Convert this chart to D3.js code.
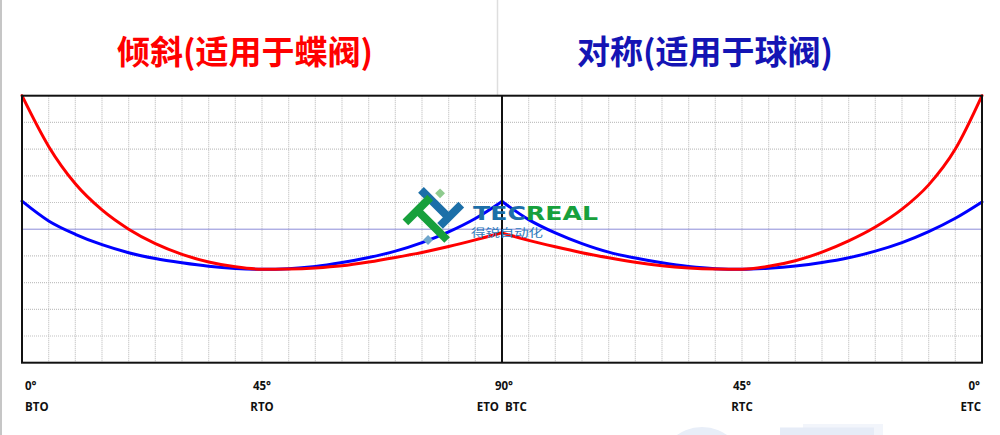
<!DOCTYPE html>
<html>
<head>
<meta charset="utf-8">
<script src="https://cdn.jsdelivr.net/npm/d3@7"></script>
<style>
  html, body { margin: 0; padding: 0; background: #ffffff; }
  svg { display: block; }
</style>
</head>
<body>
<svg id="chart" width="1000" height="435"></svg>
<script>
// Valve position, degrees
const angles = [0, 5, 10, 15, 20, 25, 30, 35, 40, 45, 50, 55, 60, 65, 70, 75, 80, 85, 90];

// Opening stroke (left panel, BTO → ETO)
const tiltOpen = [10, 8.1, 6.7, 5.72, 5.0, 4.46, 4.06, 3.77, 3.59, 3.5, 3.51, 3.55, 3.63, 3.77, 3.94, 4.13, 4.35, 4.6, 4.87];
const symOpen  = [6.05, 5.31, 4.81, 4.42, 4.12, 3.9, 3.74, 3.61, 3.53, 3.5, 3.52, 3.6, 3.75, 3.94, 4.18, 4.5, 4.9, 5.4, 6.04];

// Closing stroke (right panel, BTC → ETC)
const tiltClose = [10, 8.0, 6.66, 5.75, 5.08, 4.56, 4.14, 3.82, 3.61, 3.5, 3.51, 3.55, 3.63, 3.76, 3.93, 4.12, 4.34, 4.58, 4.86];
const symClose  = [6.02, 5.41, 4.91, 4.5, 4.18, 3.93, 3.75, 3.62, 3.54, 3.5, 3.52, 3.6, 3.74, 3.92, 4.14, 4.46, 4.86, 5.36, 6.04];

// Panel titles
const titles = ["倾斜(适用于蝶阀)", "对称(适用于球阀)"];

// Tick labels along the bottom
const angleTicksLeft  = [{a: 0, t: "0°"}, {a: 45, t: "45°"}, {a: 90, t: "90°"}];
const angleTicksRight = [{a: 45, t: "45°"}, {a: 0, t: "0°"}];
const stageLeft  = [{a: 0, t: "BTO"}, {a: 45, t: "RTO"}, {a: 90, t: "ETO"}];
const stageRight = [{a: 90, t: "BTC"}, {a: 45, t: "RTC"}, {a: 0, t: "ETC"}];

const svg = d3.select("#chart");

const L = 22, M = 502, R = 982, T = 95.7, B = 362.7;
const xLeft  = d3.scaleLinear().domain([0, 90]).range([L, M]);
const xRight = d3.scaleLinear().domain([90, 0]).range([M, R]);
const y = d3.scaleLinear().domain([0, 10]).range([B, T]);

// page edge rules
svg.append("line").attr("x1", 1).attr("x2", 1).attr("y1", 0).attr("y2", 435)
  .attr("stroke", "#c6c6c6").attr("stroke-width", 2);
svg.append("line").attr("x1", 497.5).attr("x2", 497.5).attr("y1", 0).attr("y2", T)
  .attr("stroke", "#dedede").attr("stroke-width", 1.5);

// faint background emblem at the bottom edge
const wm = svg.append("g");
wm.append("circle").attr("cx", 702).attr("cy", 470).attr("r", 43).attr("fill", "#e8eef8");
wm.append("rect").attr("x", 803).attr("y", 424).attr("width", 80).attr("height", 11).attr("fill", "#f2f5fb");
wm.append("rect").attr("x", 780).attr("y", 427.5).attr("width", 94).attr("height", 8).attr("fill", "#e6ecf7");

// titles
svg.append("text").attr("x", 245).attr("y", 64).attr("text-anchor", "middle")
  .attr("font-family", "'Noto Sans CJK SC', sans-serif").attr("font-weight", 700)
  .attr("font-size", 33).attr("fill", "#ff0000").text(titles[0]);
svg.append("text").attr("x", 705).attr("y", 64).attr("text-anchor", "middle")
  .attr("font-family", "'Noto Sans CJK SC', sans-serif").attr("font-weight", 700)
  .attr("font-size", 33).attr("fill", "#1414b4").text(titles[1]);

// grid
const grid = svg.append("g");
const gridAngles = d3.range(5, 90, 5);
const gridStyle = sel => sel.attr("stroke", "#c2c2c2").attr("stroke-width", 1.2).attr("stroke-dasharray", "1,1");
gridAngles.forEach(a => {
  grid.append("line").attr("x1", xLeft(a)).attr("x2", xLeft(a)).attr("y1", T).attr("y2", B).call(gridStyle);
  grid.append("line").attr("x1", xRight(a)).attr("x2", xRight(a)).attr("y1", T).attr("y2", B).call(gridStyle);
});
d3.range(1, 10).filter(v => v !== 5).forEach(v => {
  grid.append("line").attr("x1", L).attr("x2", R).attr("y1", y(v)).attr("y2", y(v)).call(gridStyle);
});
grid.append("line").attr("x1", L).attr("x2", R).attr("y1", y(5)).attr("y2", y(5))
  .attr("stroke", "#8c8cd8").attr("stroke-width", 1);

// curves (points ordered left to right on screen for the monotone interpolator)
const lineL = d3.line().x(d => xLeft(d[0])).y(d => y(d[1])).curve(d3.curveMonotoneX);
const lineR = d3.line().x(d => xRight(d[0])).y(d => y(d[1])).curve(d3.curveMonotoneX);
const pairs = vals => angles.map((a, i) => [a, vals[i]]);

const curves = svg.append("g").attr("fill", "none").attr("stroke-width", 3).attr("stroke-linecap", "round");
curves.append("path").attr("d", lineL(pairs(symOpen))).attr("stroke", "#0000ff");
curves.append("path").attr("d", lineL(pairs(tiltOpen))).attr("stroke", "#ff0000");
curves.append("path").attr("d", lineR(pairs(symClose).reverse())).attr("stroke", "#0000ff");
curves.append("path").attr("d", lineR(pairs(tiltClose).reverse())).attr("stroke", "#ff0000");

// frame and centre divider
svg.append("rect").attr("x", L).attr("y", T).attr("width", R - L).attr("height", B - T)
  .attr("fill", "none").attr("stroke", "#111").attr("stroke-width", 2);
svg.append("line").attr("x1", M).attr("x2", M).attr("y1", T).attr("y2", B)
  .attr("stroke", "#111").attr("stroke-width", 2);

// bottom labels
const lab = svg.append("g").attr("font-family", "'Open Sans', sans-serif")
  .attr("font-weight", 700).attr("font-size", 11.5).attr("fill", "#111");
angleTicksLeft.forEach(d => {
  lab.append("text").attr("x", d.a === 0 ? xLeft(d.a) + 3 : xLeft(d.a) + (d.a === 90 ? 2 : 0))
    .attr("y", 389.5).attr("text-anchor", d.a === 0 ? "start" : "middle").text(d.t);
});
angleTicksRight.forEach(d => {
  lab.append("text").attr("x", d.a === 0 ? xRight(d.a) - 2 : xRight(d.a))
    .attr("y", 389.5).attr("text-anchor", d.a === 0 ? "end" : "middle").text(d.t);
});
stageLeft.forEach(d => {
  const anchor = d.a === 0 ? "start" : d.a === 90 ? "end" : "middle";
  const x = d.a === 0 ? xLeft(d.a) + 3 : d.a === 90 ? xLeft(d.a) - 3 : xLeft(d.a);
  lab.append("text").attr("x", x).attr("y", 411).attr("text-anchor", anchor).text(d.t);
});
stageRight.forEach(d => {
  const anchor = d.a === 90 ? "start" : d.a === 0 ? "end" : "middle";
  const x = d.a === 90 ? xRight(d.a) + 3 : d.a === 0 ? xRight(d.a) - 1 : xRight(d.a);
  lab.append("text").attr("x", x).attr("y", 411).attr("text-anchor", anchor).text(d.t);
});

// company mark in the middle of the chart
const logo = svg.append("g");
const mark = logo.append("g").attr("transform", "translate(433,216) rotate(45)");
mark.append("rect").attr("x", -14.5).attr("y", -24.5).attr("width", 7).attr("height", 7).attr("fill", "#8fcb8f");
mark.append("rect").attr("x", 10).attr("y", 17).attr("width", 7).attr("height", 7).attr("fill", "#6fa6cc");
// blue inverted T
mark.append("rect").attr("x", -27).attr("y", -14).attr("width", 39).attr("height", 8).attr("fill", "#1c6fa8");
mark.append("rect").attr("x", 8).attr("y", -28).attr("width", 8).attr("height", 30).attr("fill", "#1c6fa8");
// green T
mark.append("rect").attr("x", -19).attr("y", -11).attr("width", 8).attr("height", 35).attr("fill", "#17a03c");
mark.append("rect").attr("x", -15).attr("y", 3).attr("width", 42).attr("height", 8).attr("fill", "#17a03c");

const word = logo.append("text").attr("x", 473).attr("y", 220)
  .attr("font-family", "'DejaVu Sans', sans-serif").attr("font-weight", 700).attr("font-size", 19)
  .attr("textLength", 125).attr("lengthAdjust", "spacingAndGlyphs");
word.append("tspan").attr("fill", "#1c6fa8").text("TEC");
word.append("tspan").attr("fill", "#17a03c").text("REAL");
logo.append("text").attr("x", 471).attr("y", 237)
  .attr("font-family", "'Noto Sans CJK SC', sans-serif").attr("font-size", 11)
  .attr("textLength", 72).attr("lengthAdjust", "spacingAndGlyphs")
  .attr("fill", "#2f7bbb").text("得锐自动化");
</script>
</body>
</html>
